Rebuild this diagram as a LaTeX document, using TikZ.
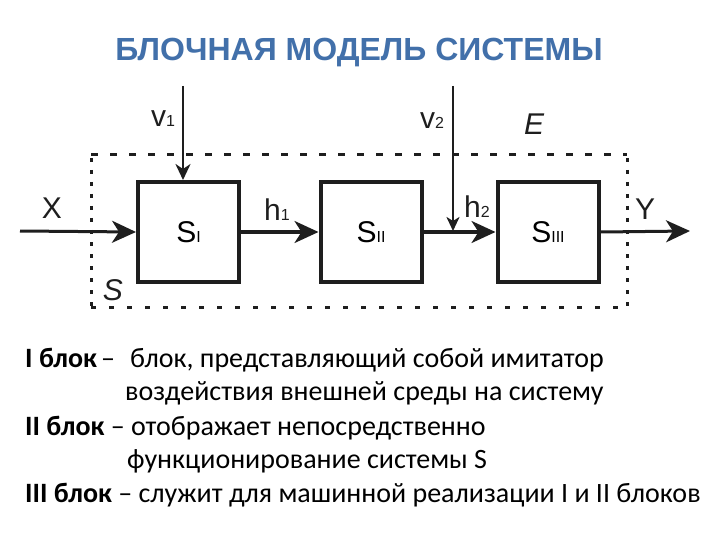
\documentclass[tikz,border=0pt]{standalone}
\usepackage{fontspec}
\setmainfont{Liberation Sans}
\newfontfamily\txtfont{Carlito}
\usetikzlibrary{arrows.meta}
\definecolor{titleblue}{RGB}{66,112,170}
\definecolor{ink}{RGB}{30,30,30}
\tikzset{
  blk/.style={draw=ink, line width=4pt, minimum width=101pt, minimum height=100pt, inner sep=0pt, font=\fontsize{30}{30}\selectfont},
  flow/.style={draw=ink, line width=3pt, -{Stealth[length=24pt,width=22pt,inset=7pt]}},
  small/.style={draw=ink, line width=2.5pt, -{Stealth[length=16pt,width=15pt,inset=5pt]}},
  bnd/.style={draw=ink, line width=3pt},
  lbl/.style={font=\fontsize{30}{30}\selectfont, text=ink, inner sep=0pt},
  txt/.style={font=\txtfont\fontsize{28}{28}\selectfont, anchor=base west, inner sep=0pt}
}
\newcommand{\sub}[1]{{\fontsize{16}{16}\selectfont #1}}
\begin{document}
\begin{tikzpicture}[x=1pt,y=-1pt]
\useasboundingbox (0,0) rectangle (720,540);
% title
\node[font=\fontsize{32}{32}\selectfont\bfseries, text=titleblue] (title) at (359,53) {БЛОЧНАЯ МОДЕЛЬ СИСТЕМЫ};
% boundary S
\draw[bnd, dash pattern=on 7pt off 12pt] (91,155) -- (627,155);
\draw[bnd, dash pattern=on 5pt off 13pt] (91,307) -- (627,307);
\draw[bnd, dash pattern=on 4pt off 8pt] (91,158) -- (91,307);
\draw[bnd, dash pattern=on 4pt off 8pt] (627,158) -- (627,307);
% blocks
\node[blk] (s1) at (188.5,232) {S\sub{I}};
\node[blk] (s2) at (371,232) {S\sub{II}};
\node[blk] (s3) at (548,232) {S\sub{III}};
% coordinates
\coordinate (xin) at (20,231);
\coordinate (yout) at (690,231);
\coordinate (v1top) at (183,86);
\coordinate (v2top) at (453,86);
\coordinate (v2end) at (453,231);
% connectors
\draw[flow] (xin) -- (s1.west);
\draw[flow] (s1.east) -- (s2.west);
\draw[flow] (s2.east) -- (s3.west);
\draw[flow] (s3.east) -- (yout);
\draw[small] (v1top) -- (v1top |- s1.north);
\draw[small, -{Stealth[length=14pt,width=13pt,inset=4pt]}] (v2top) -- (v2end);
% labels
\node[lbl] (lx) at (52,208) {X};
\node[lbl] (lh1) at (277,210) {h\sub{1}};
\node[lbl] (lh2) at (477,207) {h\sub{2}};
\node[lbl] (ly) at (645,209) {Y};
\node[lbl] (lv1) at (163,119) {v\sub{1}};
\node[lbl] (lv2) at (432,121) {v\sub{2}};
\node[lbl, font=\fontsize{30}{30}\selectfont\itshape] (le) at (534,124) {E};
\node[lbl, font=\fontsize{30}{30}\selectfont\itshape] (ls) at (113,290) {S};
% text
\node[txt] (t1) at (25,367) {\textbf{I блок}};
\node[txt] (d1) at (101,367) {–};
\node[txt] (t1b) at (130,367) {блок, представляющий собой имитатор};
\node[txt] (t2) at (125,400) {воздействия внешней среды на систему};
\node[txt] (t3) at (25,435) {\textbf{II блок} – отображает непосредственно};
\node[txt] (t4) at (127,468) {функционирование системы S};
\node[txt] (t5) at (25,502) {\textbf{III блок} – служит для машинной реализации I и II блоков};
\end{tikzpicture}
\end{document}
